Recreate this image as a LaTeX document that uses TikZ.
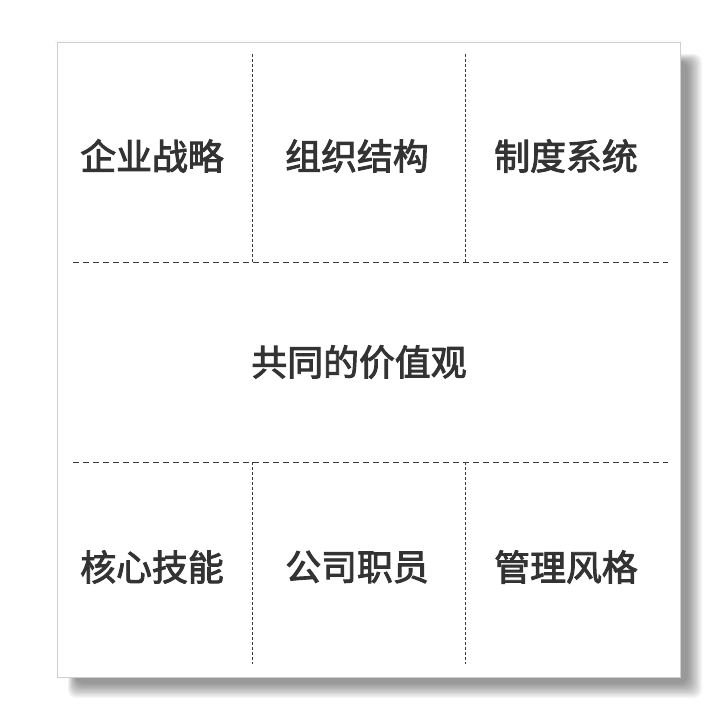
\documentclass[tikz,border=0pt]{standalone}
\usepackage{fontspec}
\newfontfamily\cjk{Noto Sans CJK SC}[FakeBold=2.6]
\definecolor{txt}{HTML}{333333}
\definecolor{dash}{HTML}{3A3A3A}
\definecolor{edge}{HTML}{CFCFCF}
\begin{document}
\begin{tikzpicture}[x=1bp,y=-1bp,
  lbl/.style={font=\cjk\fontsize{36}{42}\selectfont, text=txt, inner sep=0pt},
  hdash/.style={draw=dash, line width=0.8bp, dash pattern=on 6bp off 4bp},
  vdash/.style={draw=dash, line width=0.8bp, dash pattern=on 3bp off 2bp}]
\useasboundingbox (0,0) rectangle (720,720);
\fill[white] (0,0) rectangle (720,720);
% shadow
\foreach \i in {0,...,11}{
  \fill[black, opacity=0.04, rounded corners=8bp] (68+\i*0.7,54+\i*0.7) rectangle (702-\i*1.3,698-\i*1.3);
}
\fill[white!98!black] (55,40) rectangle (682,44);
% box
\fill[white, draw=edge, line width=0.8bp] (57,42) rectangle (680,677);
% dashed grid
\coordinate (h1l) at (73,262); \coordinate (h1r) at (668,262);
\coordinate (h2l) at (73,462); \coordinate (h2r) at (668,462);
\coordinate (v1t) at (252,54);  \coordinate (v1b) at (252,262);
\coordinate (v2t) at (465,54);  \coordinate (v2b) at (465,262);
\coordinate (v3t) at (252,462); \coordinate (v3b) at (252,664);
\coordinate (v4t) at (465,462); \coordinate (v4b) at (465,664);
\draw[hdash] (h1l) -- (h1r);
\draw[hdash] (h2l) -- (h2r);
\draw[vdash] (v1t) -- (v1b);
\draw[vdash] (v2t) -- (v2b);
\draw[vdash] (v3t) -- (v3b);
\draw[vdash] (v4t) -- (v4b);
% labels
\node[lbl] (a) at (152,156) {企业战略};
\node[lbl] (b) at (357,156) {组织结构};
\node[lbl] (c) at (566,156) {制度系统};
\node[lbl] (d) at (359,362) {共同的价值观};
\node[lbl] (e) at (152,567) {核心技能};
\node[lbl] (f) at (357,567) {公司职员};
\node[lbl] (g) at (566,567) {管理风格};
\end{tikzpicture}
\end{document}
